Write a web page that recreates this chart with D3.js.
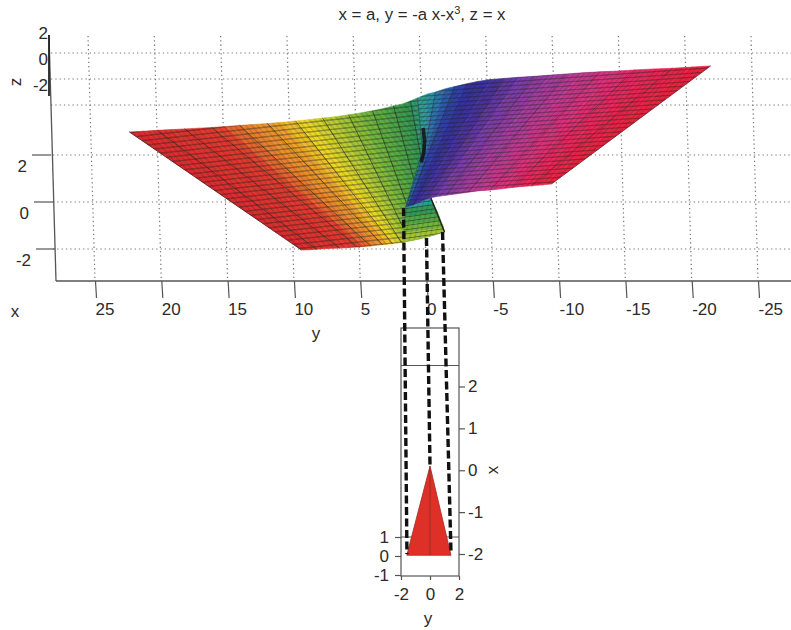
<html>
<head>
<meta charset="utf-8">
<script src="https://cdn.jsdelivr.net/npm/d3@7/dist/d3.min.js"></script>
<style>
    body { margin: 0; background: white; }
    text { font-family: "Liberation Sans", Arial, sans-serif; fill: #2b2b2b; }
    .axis text { font-size: 17px; }
    .axis line { stroke: #555; stroke-width: 1.2; }
    .grid { stroke: #777; stroke-width: 1.2; stroke-dasharray: 1.3 3; fill: none; }
</style>
</head>
<body>
<script>
// axis ticks
var yTicks = [25, 20, 15, 10, 5, 0, -5, -10, -15, -20, -25];
var zTicks = [2, 0, -2];
var upperZTicks = [2, 0, -2];
var upperZGrid = [0, -2, -4];
var insetXTicks = [2, 1, 0, -1, -2];
var insetYTicks = [-2, 0, 2];
var insetZTicks = [1, 0, -1];

// left half of the sheet, one ruling per index (top edge to bottom edge)
var leftTopY = [22.40, 21.34, 20.29, 19.23, 18.25, 17.19, 16.21, 15.16, 14.10, 13.05, 11.99, 10.93, 9.88, 8.82, 7.84, 6.86, 5.88, 4.98, 4.07, 3.24, 2.49, 1.81, 1.21, 0.68];
var leftTopZ = [2.98, 3.01, 3.05, 3.08, 3.11, 3.14, 3.17, 3.21, 3.26, 3.30, 3.34, 3.39, 3.45, 3.51, 3.57, 3.63, 3.71, 3.79, 3.88, 3.98, 4.09, 4.17, 4.30, 4.43];
var leftBottomY = [9.43, 8.82, 8.30, 7.47, 6.56, 5.88, 5.20, 4.68, 4.22, 3.77, 3.32, 2.94, 2.56, 2.19, 1.89, 1.58, 1.28, 0.90, 0.53, 0.15, -0.23, -0.60, -1.06, -1.36];
var leftBottomZ = [-2.04, -2.03, -2.01, -1.98, -1.96, -1.94, -1.91, -1.89, -1.87, -1.84, -1.82, -1.80, -1.78, -1.75, -1.73, -1.69, -1.66, -1.62, -1.57, -1.51, -1.46, -1.40, -1.32, -1.28];
var leftKnees = { 22: [-0.15, 0.21], 23: [-0.30, 0.21] };

// right half of the sheet
var rightTopY = [0.68, -0.08, -0.68, -1.36, -2.11, -2.94, -3.85, -4.83, -5.88, -7.01, -8.14, -9.35, -10.56, -11.76, -13.05, -14.33, -15.69, -17.12, -18.55, -19.98, -21.42];
var rightTopZ = [4.43, 4.60, 4.68, 4.81, 4.91, 5.02, 5.13, 5.21, 5.26, 5.31, 5.35, 5.40, 5.45, 5.50, 5.54, 5.57, 5.62, 5.66, 5.69, 5.74, 5.79];
var rightBottomY = [1.58, 1.55, 1.51, 1.43, 1.36, 1.21, 0.98, 0.53, -0.08, -0.75, -1.51, -2.34, -3.17, -4.00, -4.83, -5.66, -6.49, -7.24, -7.92, -8.75, -9.43];
var rightBottomZ = [-0.23, -0.23, -0.21, -0.20, -0.18, -0.15, -0.11, 0, 0.15, 0.23, 0.29, 0.35, 0.42, 0.48, 0.51, 0.56, 0.62, 0.66, 0.69, 0.73, 0.77];
var rightKnees = { 0: [0.30, 2.21], 1: [0.23, 2.21], 2: [0.15, 2.21], 3: [0, 2.21], 4: [-0.23, 2.21] };

// small flap under the fold, rows from the bottom edge upwards
var flapRows = [
    [[1.73, -1.70], [0.30, -1.53], [-1.36, -1.28]],
    [[1.73, -1.28], [-1.28, -1.06]],
    [[1.73, -0.94], [-1.06, -0.77]],
    [[1.66, -0.60], [-0.83, -0.43]],
    [[1.58, -0.26], [-0.53, -0.09]],
    [[1.58, -0.21], [-0.30, 0.21]]
];
var flapTone = [6.4, 4.6, 3.0, 1.4, 0.2];

var foldPoints = [[0.25, 3.15], [0.15, 2.6], [0.20, 2.1], [0.40, 1.7]];

// colour map of the surface, keyed by the y value of the top edge
var toneStops = [22, 16, 14, 11.5, 9.5, 7.2, 4, 1.5, 0, -1.5, -3, -5, -7.5, -10.5, -13.5, -17, -21.5];
var toneColors = ["#dc2a2e", "#e03a2e", "#e87a2c", "#ee9f2a", "#f0d822", "#b8cc30", "#62b03e", "#33984f", "#2ba0a4", "#2c64b0", "#2e32a0", "#40309a", "#7c3ca6", "#ae3c98", "#d63280", "#e82658", "#ea2038"];

// inset triangle and the dashed guides
var triangleY = [-1.6, 0, 1.45];
var triangleX = [-2.03, 0.1, -2.03];
var guideTopY = [1.73, 0, -1.21];
var guideTopZ = [-0.26, -1.53, -1.28];
var guideInsetY = [-1.59, 0, 1.45];
var guideInsetX = [-2.0, 0.1, -2.0];

var width = 791, height = 630;

var svg = d3.select("body").append("svg")
    .attr("width", width)
    .attr("height", height);

var sy = d3.scaleLinear().domain([25, -25]).range([95, 758]);
var sz = d3.scaleLinear().domain([-2, 2]).range([249, 155]);
var szUpper = d3.scaleLinear().domain([-2, 0]).range([79, 53]);
var tone = d3.scaleLinear().domain(toneStops).range(toneColors);

var insetY = d3.scaleLinear().domain([-2, 2]).range([401, 459]);
var insetX = d3.scaleLinear().domain([-2, 2]).range([554, 386.5]);
var insetZ = d3.scaleLinear().domain([-1, 1]).range([575, 537]);

var project = d3.line().x(function(d) { return sy(d[0]); }).y(function(d) { return sz(d[1]); });

// hatch patterns give the fine mesh on the surface
var defs = svg.append("defs");
function addHatch(id, matrix)
{
    var p = defs.append("pattern")
        .attr("id", id)
        .attr("patternUnits", "userSpaceOnUse")
        .attr("width", 5.2)
        .attr("height", 4.4)
        .attr("patternTransform", matrix);
    p.append("path").attr("d", "M0,2.2H5.2").attr("stroke", "#1c1c1c").attr("stroke-width", 1).attr("opacity", 0.52);
    p.append("path").attr("d", "M2.6,0V4.4").attr("stroke", "#1c1c1c").attr("stroke-width", 0.8).attr("opacity", 0.3);
}
addHatch("hatchLeft", "matrix(1,-0.11,0.85,1,0,0)");
addHatch("hatchRight", "matrix(1,-0.07,-0.9,1,0,0)");
addHatch("hatchFlap", "matrix(1,-0.14,-0.25,1,0,0)");

// the source picture is slightly soft
defs.append("filter").attr("id", "soft")
    .append("feGaussianBlur").attr("stdDeviation", 0.35);

// grid
var grid = svg.append("g").attr("class", "grid");
yTicks.forEach(function(t) {
    grid.append("line")
        .attr("x1", sy(t) - 7).attr("y1", 36)
        .attr("x2", sy(t)).attr("y2", 281);
});
zTicks.forEach(function(t) {
    grid.append("line").attr("x1", 53).attr("y1", sz(t)).attr("x2", 791).attr("y2", sz(t));
});
upperZGrid.forEach(function(t) {
    grid.append("line").attr("x1", 51).attr("y1", szUpper(t)).attr("x2", 791).attr("y2", szUpper(t));
});

// back walls
svg.append("line").attr("x1", 49).attr("y1", 35).attr("x2", 56).attr("y2", 281).attr("stroke", "#555").attr("stroke-width", 1.3);
svg.append("line").attr("x1", 49).attr("y1", 35).attr("x2", 49).attr("y2", 96).attr("stroke", "#222").attr("stroke-width", 1.8);
svg.append("line").attr("x1", 56).attr("y1", 281).attr("x2", 791).attr("y2", 281).attr("stroke", "#555").attr("stroke-width", 1.3);

// main y axis
var yAxis = svg.append("g")
    .attr("class", "axis")
    .attr("transform", "translate(0,281)")
    .call(d3.axisBottom(sy).tickValues(yTicks).tickSize(17).tickSizeOuter(0).tickFormat(d3.format("d")));
yAxis.select(".domain").remove();
yAxis.selectAll("line").attr("x2", 1);
yAxis.selectAll("text").attr("text-anchor", "start").attr("y", 22).attr("dy", "0.71em").text(function(d) { return String(d); });

// main z axis, the ticks follow the tilted wall
var tickWall = d3.scaleLinear().domain([2, -2]).range([51, 55]);
var zAxis = svg.append("g")
    .attr("class", "axis")
    .call(d3.axisLeft(sz).tickValues(zTicks).tickSize(19).tickFormat(function(d) { return String(d); }));
zAxis.select(".domain").remove();
zAxis.selectAll(".tick").attr("transform", function(d) { return "translate(" + tickWall(d) + "," + sz(d) + ")"; });
zAxis.selectAll("text").attr("x", -24).attr("dy", "1em");

// the z labels of the upper wall have no tick marks
var zUpper = svg.append("g")
    .attr("class", "axis")
    .attr("transform", "translate(49,0)")
    .call(d3.axisLeft(szUpper).tickValues(upperZTicks).tickSize(0).tickFormat(function(d) { return String(d); }));
zUpper.select(".domain").remove();
zUpper.selectAll("text").attr("x", -1).attr("dy", "0.65em");

function buildRulings(topY, topZ, bottomY, bottomZ, knees)
{
    return topY.map(function(t, i) {
        var r = [[t, topZ[i]]];
        if (knees[i]) r.push(knees[i]);
        r.push([bottomY[i], bottomZ[i]]);
        return r;
    });
}

var surface = svg.append("g").attr("filter", "url(#soft)");

function drawSheet(rulings, tones, hatch)
{
    var g = surface.append("g");
    var outline = "";
    for (var i = 0; i < rulings.length - 1; i++)
    {
        var strip = rulings[i].concat(rulings[i + 1].slice().reverse());
        var d = project(strip) + "Z";
        outline += d;
        g.append("path")
            .attr("d", d)
            .attr("fill", tone(tones(i)))
            .attr("stroke", tone(tones(i)))
            .attr("stroke-width", 0.6);
    }
    g.append("path").attr("d", outline).attr("fill", "url(#" + hatch + ")");
    return g;
}

var leftRulings = buildRulings(leftTopY, leftTopZ, leftBottomY, leftBottomZ, leftKnees);
var rightRulings = buildRulings(rightTopY, rightTopZ, rightBottomY, rightBottomZ, rightKnees);

var leftSheet = drawSheet(leftRulings, function(i) { return (leftTopY[i] + leftTopY[i + 1]) / 2; }, "hatchLeft");
leftRulings.forEach(function(r, i) {
    if (i % 2 == 0)
        leftSheet.append("path").attr("d", project(r)).attr("fill", "none").attr("stroke", "#222").attr("stroke-width", 0.9).attr("opacity", 0.7);
});

var flapSheet = drawSheet(flapRows, function(i) { return flapTone[i]; }, "hatchFlap");
flapSheet.append("path")
    .attr("d", project([flapRows[0][2], flapRows[5][1]]))
    .attr("fill", "none").attr("stroke", "#222").attr("stroke-width", 1.4);

var rightSheet = drawSheet(rightRulings, function(i) { return (rightTopY[i] + rightTopY[i + 1]) / 2; }, "hatchRight");
rightRulings.forEach(function(r, i) {
    if (i % 2 == 0)
        rightSheet.append("path").attr("d", project(r)).attr("fill", "none").attr("stroke", "#222").attr("stroke-width", 0.8).attr("opacity", 0.55);
});
surface.append("path")
    .attr("d", project(foldPoints))
    .attr("fill", "none").attr("stroke", "#111").attr("stroke-width", 3.6).attr("opacity", 0.85);

// inset box
var inset = svg.append("g");
inset.append("rect")
    .attr("x", 401).attr("y", 328)
    .attr("width", 58).attr("height", 248)
    .attr("fill", "none").attr("stroke", "#555").attr("stroke-width", 1.2);
inset.append("line").attr("x1", 401).attr("y1", 365.5).attr("x2", 459).attr("y2", 365.5).attr("stroke", "#555").attr("stroke-width", 1.2);
inset.append("line").attr("x1", 401).attr("y1", insetZ(1)).attr("x2", 459).attr("y2", insetZ(1)).attr("stroke", "#555").attr("stroke-width", 1.2);

var triangle = d3.line().x(function(d, i) { return insetY(triangleY[i]); }).y(function(d, i) { return insetX(triangleX[i]); });
inset.append("path")
    .attr("d", triangle(triangleY) + "Z")
    .attr("fill", "#df3028").attr("stroke", "#a02a22").attr("stroke-width", 0.8);
inset.append("line")
    .attr("x1", insetY(0)).attr("y1", insetX(triangleX[1]))
    .attr("x2", insetY(0)).attr("y2", insetX(triangleX[0]))
    .attr("stroke", "#8a2a22").attr("stroke-width", 0.8);

var insetRight = inset.append("g")
    .attr("class", "axis")
    .attr("transform", "translate(459,0)")
    .call(d3.axisRight(insetX).tickValues(insetXTicks).tickSize(6).tickFormat(function(d) { return String(d); }));
insetRight.select(".domain").remove();
insetRight.selectAll("text").attr("x", 9);

var insetLeft = inset.append("g")
    .attr("class", "axis")
    .attr("transform", "translate(401,0)")
    .call(d3.axisLeft(insetZ).tickValues(insetZTicks).tickSize(6).tickFormat(function(d) { return String(d); }));
insetLeft.select(".domain").remove();
insetLeft.selectAll("text").attr("x", -12);

var insetBottom = inset.append("g")
    .attr("class", "axis")
    .attr("transform", "translate(0,576)")
    .call(d3.axisBottom(insetY).tickValues(insetYTicks).tickSize(4).tickFormat(function(d) { return String(d); }));
insetBottom.select(".domain").remove();
insetBottom.selectAll("text").attr("y", 12);

// dashed guides from the fold down to the inset
guideTopY.forEach(function(t, i) {
    svg.append("line")
        .attr("x1", sy(t)).attr("y1", sz(guideTopZ[i]))
        .attr("x2", insetY(guideInsetY[i])).attr("y2", insetX(guideInsetX[i]))
        .attr("stroke", "#111").attr("stroke-width", 3.4).attr("stroke-dasharray", "8 3.5");
});

// labels
function label(txt, x, y, rotate)
{
    var t = svg.append("text")
        .attr("x", x).attr("y", y)
        .attr("text-anchor", "middle")
        .attr("font-size", 17)
        .text(txt);
    if (rotate) t.attr("transform", "rotate(-90," + x + "," + y + ")");
    return t;
}
label("x", 15, 317);
label("y", 316, 339);
label("z", 21, 82, true);
label("x", 498, 470, true);
label("y", 428, 624);

var title = svg.append("text")
    .attr("x", 422).attr("y", 20)
    .attr("text-anchor", "middle")
    .attr("font-size", 16.8);
title.append("tspan").text("x = a, y = -a x-x");
title.append("tspan").attr("dy", -6).attr("font-size", 11).text("3");
title.append("tspan").attr("dy", 6).text(", z = x");
</script>
</body>
</html>
